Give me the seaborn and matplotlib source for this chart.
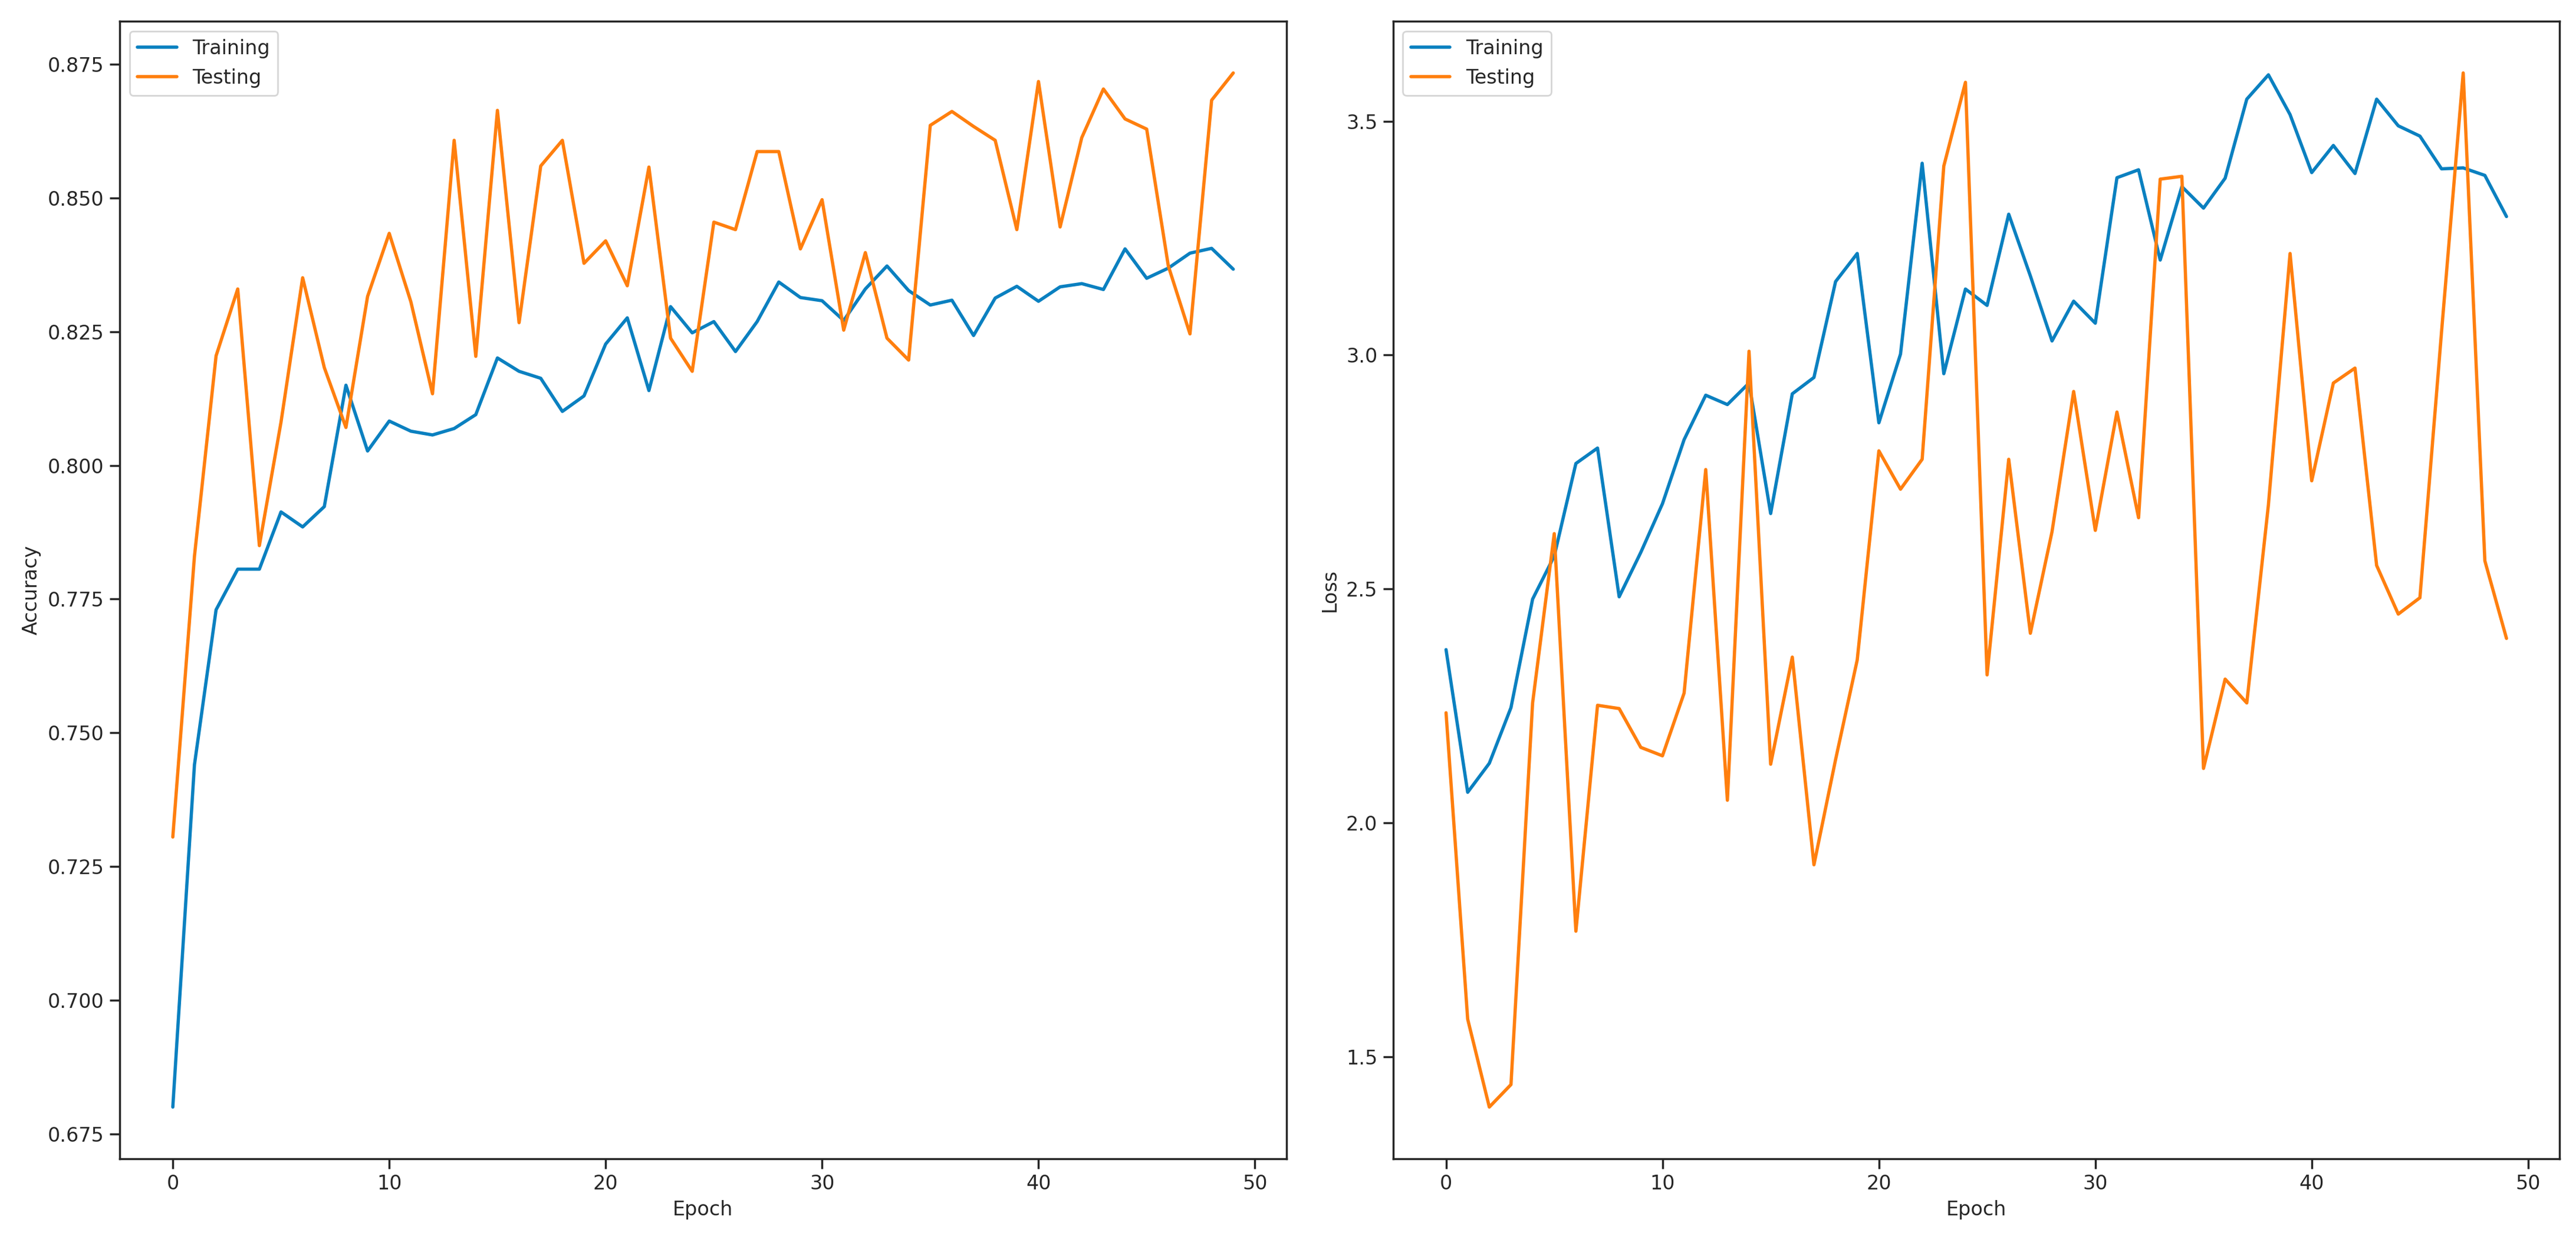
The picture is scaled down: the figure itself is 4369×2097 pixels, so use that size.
import matplotlib
matplotlib.use("Agg")
import matplotlib.pyplot as plt
import seaborn as sns
import pandas as pd

epochs = list(range(50))

train_acc = [0.680, 0.744, 0.773, 0.7806, 0.7806, 0.7913, 0.7885, 0.7923, 0.8150, 0.8027,
             0.8083, 0.8064, 0.8057, 0.8069, 0.8095, 0.8201, 0.8176, 0.8163, 0.8101, 0.8130,
             0.8227, 0.8276, 0.8140, 0.8297, 0.8248, 0.8269, 0.8213, 0.8269, 0.8343, 0.8314,
             0.8308, 0.8271, 0.8330, 0.8373, 0.8327, 0.8300, 0.8309, 0.8243, 0.8313, 0.8335,
             0.8307, 0.8334, 0.8340, 0.8329, 0.8405, 0.8350, 0.8369, 0.8397, 0.8406, 0.8367]
test_acc = [0.7305, 0.783, 0.8205, 0.8330, 0.7850, 0.8081, 0.8351, 0.8183, 0.8071, 0.8316,
            0.8434, 0.8306, 0.8134, 0.8608, 0.8204, 0.8664, 0.8267, 0.8560, 0.8608, 0.8378,
            0.8420, 0.8336, 0.8558, 0.8238, 0.8176, 0.8455, 0.8441, 0.8587, 0.8587, 0.8405,
            0.8497, 0.8253, 0.8398, 0.8238, 0.8197, 0.8636, 0.8662, 0.8634, 0.8608, 0.8441,
            0.8718, 0.8446, 0.8613, 0.8704, 0.8648, 0.8629, 0.8373, 0.8246, 0.8683, 0.8734]

train_loss = [2.370, 2.065, 2.127, 2.246, 2.478, 2.570, 2.768, 2.801, 2.483, 2.578,
              2.682, 2.819, 2.914, 2.894, 2.940, 2.661, 2.917, 2.952, 3.157, 3.217,
              2.855, 3.002, 3.410, 2.960, 3.141, 3.106, 3.301, 3.169, 3.030, 3.115,
              3.068, 3.379, 3.396, 3.203, 3.360, 3.314, 3.378, 3.547, 3.599, 3.514,
              3.390, 3.448, 3.388, 3.547, 3.490, 3.468, 3.398, 3.400, 3.384, 3.296]
test_loss = [2.235, 1.580, 1.392, 1.440, 2.256, 2.618, 1.768, 2.251, 2.244, 2.161,
             2.143, 2.277, 2.755, 2.048, 3.008, 2.125, 2.354, 1.910, 2.135, 2.348,
             2.795, 2.713, 2.777, 3.404, 3.583, 2.316, 2.777, 2.405, 2.622, 2.922,
             2.625, 2.878, 2.652, 3.376, 3.382, 2.116, 2.307, 2.256, 2.680, 3.217,
             2.731, 2.940, 2.972, 2.550, 2.446, 2.481, 3.050, 3.603, 2.560, 2.394]

acc_df = pd.DataFrame({"Epoch": epochs * 2,
                       "Accuracy": train_acc + test_acc,
                       "Set": ["Training"] * 50 + ["Testing"] * 50})
loss_df = pd.DataFrame({"Epoch": epochs * 2,
                        "Loss": train_loss + test_loss,
                        "Set": ["Training"] * 50 + ["Testing"] * 50})

sns.set_style("ticks")
plt.rcParams.update({
    "xtick.labelsize": 12, "ytick.labelsize": 12, "axes.labelsize": 12,
    "legend.fontsize": 12, "xtick.major.size": 6, "ytick.major.size": 6,
    "axes.linewidth": 1.25, "xtick.major.width": 1.25, "ytick.major.width": 1.25,
})
palette = {"Training": "#0a80c0", "Testing": "#ff7f0e"}

fig, axes = plt.subplots(1, 2, figsize=(21.845, 10.485), dpi=200)
fig.subplots_adjust(left=0.0465, right=0.9936, bottom=0.0625, top=0.9828, wspace=0.0915)

sns.lineplot(data=acc_df, x="Epoch", y="Accuracy", hue="Set", palette=palette,
             linewidth=2.0, ax=axes[0])
sns.lineplot(data=loss_df, x="Epoch", y="Loss", hue="Set", palette=palette,
             linewidth=2.0, ax=axes[1])

for ax in axes:
    ax.legend(loc="upper left", title=None)
    ax.set_xticks([0, 10, 20, 30, 40, 50])

axes[0].set_yticks([0.675, 0.700, 0.725, 0.750, 0.775, 0.800, 0.825, 0.850, 0.875])
axes[1].set_yticks([1.5, 2.0, 2.5, 3.0, 3.5])

plt.savefig("out.png", dpi=200, facecolor="w")
